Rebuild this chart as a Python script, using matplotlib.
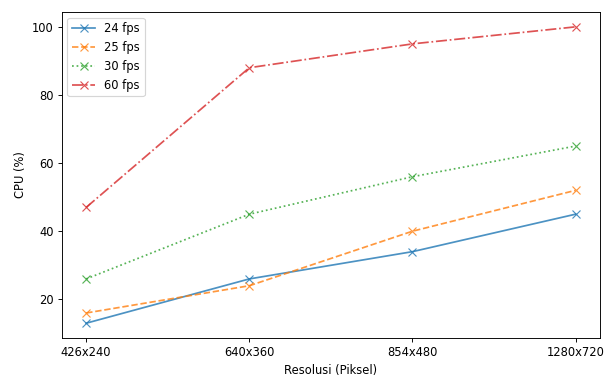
import matplotlib
matplotlib.use("Agg")
from matplotlib import pyplot as plt

resolusi = ["426x240", "640x360", "854x480", "1280x720"]
fps24 = [13, 26, 34, 45]
fps25 = [16, 24, 40, 52]
fps30 = [26, 45, 56, 65]
fps60 = [47, 88, 95, 100]

dpi = 83
fig = plt.figure(figsize=(611 / dpi, 376 / dpi), dpi=dpi)
ax = fig.add_axes([0.101, 0.101, 0.881, 0.867])

ax.plot(resolusi, fps24, marker='x', markersize=7, linestyle='-', alpha=0.8, label='24 fps')
ax.plot(resolusi, fps25, marker='x', markersize=7, linestyle='--', alpha=0.8, label='25 fps')
ax.plot(resolusi, fps30, marker='x', markersize=7, linestyle=':', alpha=0.8, label='30 fps')
ax.plot(resolusi, fps60, marker='x', markersize=7, linestyle='-.', alpha=0.8, label='60 fps')

ax.set_xlabel('Resolusi (Piksel)')
ax.set_ylabel('CPU (%)')
ax.legend(loc='upper left')

fig.savefig("out.png", dpi=dpi)
